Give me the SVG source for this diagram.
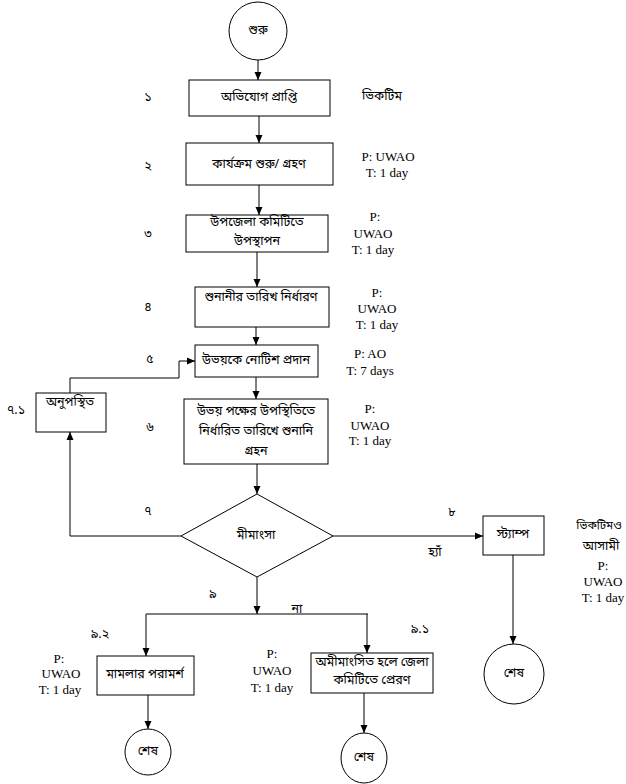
<svg xmlns="http://www.w3.org/2000/svg" width="626" height="784" viewBox="0 0 626 784">
<style>
.n{fill:#fff;stroke:#000;stroke-width:1}
.bn{font-family:'Noto Sans Bengali','Noto Serif Bengali','Lohit Bengali','FreeSerif','Liberation Serif',serif;font-size:12.5px;fill:#000;text-anchor:middle;dominant-baseline:central}
.lt{font-family:'Liberation Serif','Times New Roman','DejaVu Serif',serif;font-size:13px;fill:#000;text-anchor:middle;dominant-baseline:central}
.c{fill:none;stroke:#000;stroke-width:1}
</style>
<defs>
<marker id="ah" markerWidth="8" markerHeight="8" refX="8" refY="4" orient="auto" markerUnits="userSpaceOnUse">
<path d="M0,0.5 L8,4 L0,7.5 Z" fill="#000"/>
</marker>
</defs>
<rect width="626" height="784" fill="#fff"/>
<g id="connectors">
<line class="c" x1="258" y1="60" x2="258" y2="80" marker-end="url(#ah)"/>
<line class="c" x1="259" y1="116" x2="259" y2="143" marker-end="url(#ah)"/>
<line class="c" x1="259" y1="185" x2="259" y2="215" marker-end="url(#ah)"/>
<line class="c" x1="257" y1="252" x2="257" y2="287" marker-end="url(#ah)"/>
<line class="c" x1="256" y1="327" x2="256" y2="345" marker-end="url(#ah)"/>
<line class="c" x1="256" y1="377" x2="256" y2="399" marker-end="url(#ah)"/>
<line class="c" x1="257" y1="464" x2="257" y2="494" marker-end="url(#ah)"/>
<polyline class="c" points="181,536 70,536 70,432" marker-end="url(#ah)"/>
<polyline class="c" points="70,393 70,378 179,378 179,361 195,361" marker-end="url(#ah)"/>
<line class="c" x1="333" y1="536" x2="483" y2="536" marker-end="url(#ah)"/>
<line class="c" x1="513" y1="555" x2="513" y2="644" marker-end="url(#ah)"/>
<line class="c" x1="257" y1="577" x2="257" y2="614" marker-end="url(#ah)"/>
<line class="c" x1="146" y1="614" x2="368" y2="614"/>
<line class="c" x1="146" y1="614" x2="146" y2="656" marker-end="url(#ah)"/>
<line class="c" x1="367" y1="614" x2="367" y2="653" marker-end="url(#ah)"/>
<line class="c" x1="148" y1="695" x2="148" y2="729" marker-end="url(#ah)"/>
<line class="c" x1="364" y1="693" x2="364" y2="733" marker-end="url(#ah)"/>
</g>
<g id="start">
<circle class="n" cx="258" cy="31" r="29"/>
<text class="bn" x="258" y="31">শুরু</text>
</g>
<g id="step1">
<rect class="n" x="189" y="80" width="141" height="36"/>
<text class="bn" x="259" y="98">অভিযোগ প্রাপ্তি</text>
<text class="bn" x="148" y="98">১</text>
<text class="bn" x="382" y="97">ভিকটিম</text>
</g>
<g id="step2">
<rect class="n" x="186" y="143" width="147" height="42"/>
<text class="bn" x="259" y="165">কার্যক্রম শুরু/ গ্রহণ</text>
<text class="bn" x="148" y="167">২</text>
<text class="lt" x="388" y="156">P: UWAO</text>
<text class="lt" x="387" y="172">T: 1 day</text>
</g>
<g id="step3">
<rect class="n" x="186" y="215" width="142" height="37"/>
<text class="bn" x="257" y="223">উপজেলা কমিটিতে</text>
<text class="bn" x="257" y="242">উপস্থাপন</text>
<text class="bn" x="148" y="235">৩</text>
<text class="lt" x="375" y="216">P:</text>
<text class="lt" x="373" y="233">UWAO</text>
<text class="lt" x="373" y="249">T: 1 day</text>
</g>
<g id="step4">
<rect class="n" x="195" y="287" width="134" height="40"/>
<text class="bn" x="261" y="298">শুনানীর তারিখ নির্ধারণ</text>
<text class="bn" x="148" y="308">৪</text>
<text class="lt" x="377" y="292">P:</text>
<text class="lt" x="377" y="308">UWAO</text>
<text class="lt" x="377" y="324">T: 1 day</text>
</g>
<g id="step5">
<rect class="n" x="195" y="345" width="123" height="32"/>
<text class="bn" x="256" y="361">উভয়কে নোটিশ প্রদান</text>
<text class="bn" x="150" y="360">৫</text>
<text class="lt" x="370" y="353">P: AO</text>
<text class="lt" x="370" y="370">T: 7 days</text>
</g>
<g id="step6">
<rect class="n" x="184" y="399" width="144" height="65"/>
<text class="bn" x="256" y="412">উভয় পক্ষের উপস্থিতিতে</text>
<text class="bn" x="256" y="432">নির্ধারিত তারিখে শুনানি</text>
<text class="bn" x="256" y="452">গ্রহন</text>
<text class="bn" x="150" y="428">৬</text>
<text class="lt" x="370" y="408">P:</text>
<text class="lt" x="370" y="425">UWAO</text>
<text class="lt" x="370" y="440">T: 1 day</text>
</g>
<g id="step71">
<rect class="n" x="36" y="393" width="70" height="39"/>
<text class="bn" x="70" y="403">অনুপস্থিত</text>
<text class="bn" x="16" y="411">৭.১</text>
</g>
<g id="decision7">
<polygon class="n" points="257,494 333,536 257,577 181,536"/>
<text class="bn" x="256" y="536">মীমাংসা</text>
<text class="bn" x="148" y="512">৭</text>
<text class="bn" x="435" y="553">হ্যাঁ</text>
<text class="bn" x="297" y="610">না</text>
<text class="bn" x="213" y="595">৯</text>
</g>
<g id="step8">
<rect class="n" x="483" y="516" width="61" height="39"/>
<text class="bn" x="513" y="535">স্ট্যাম্প</text>
<text class="bn" x="452" y="513">৮</text>
<text class="bn" x="599" y="526" style="font-size:11.5px">ভিকটিমও</text>
<text class="bn" x="601" y="547">আসামী</text>
<text class="lt" x="603" y="565">P:</text>
<text class="lt" x="603" y="581">UWAO</text>
<text class="lt" x="603" y="597">T: 1 day</text>
</g>
<g id="end8">
<circle class="n" cx="514" cy="674" r="30"/>
<text class="bn" x="514" y="674">শেষ</text>
</g>
<g id="step92">
<rect class="n" x="97" y="656" width="97" height="39"/>
<text class="bn" x="145" y="675">মামলার পরামর্শ</text>
<text class="bn" x="100" y="635">৯.২</text>
<text class="lt" x="59" y="658">P:</text>
<text class="lt" x="61" y="673">UWAO</text>
<text class="lt" x="60" y="689">T: 1 day</text>
</g>
<g id="end92">
<circle class="n" cx="148" cy="752" r="23"/>
<text class="bn" x="148" y="752">শেষ</text>
</g>
<g id="step91">
<rect class="n" x="311" y="653" width="122" height="40"/>
<text class="bn" x="372" y="663">অমীমাংসিত হলে জেলা</text>
<text class="bn" x="372" y="681">কমিটিতে প্রেরণ</text>
<text class="bn" x="420" y="630">৯.১</text>
<text class="lt" x="272" y="653">P:</text>
<text class="lt" x="272" y="670">UWAO</text>
<text class="lt" x="272" y="687">T: 1 day</text>
</g>
<g id="end91">
<ellipse class="n" cx="364" cy="758" rx="23" ry="25"/>
<text class="bn" x="364" y="758">শেষ</text>
</g>
</svg>
